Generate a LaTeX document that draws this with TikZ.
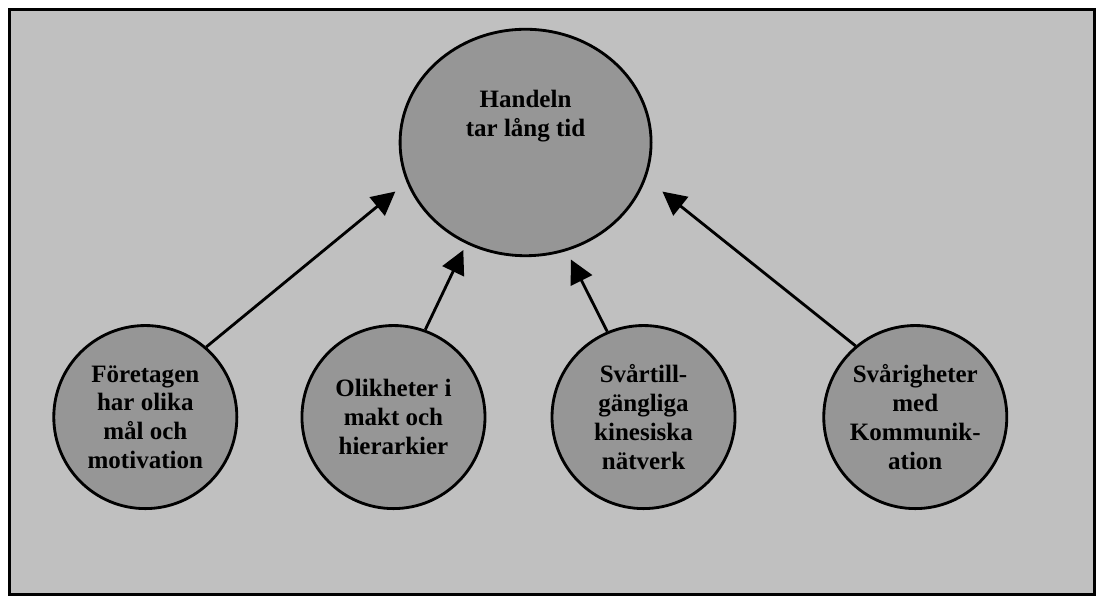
\documentclass[tikz,border=0pt]{standalone}
\usepackage{fontspec}
\setmainfont{Liberation Serif}
\usetikzlibrary{arrows.meta,shapes.geometric}
\definecolor{bgfill}{RGB}{192,192,192}
\definecolor{circfill}{RGB}{150,150,150}
\begin{document}
\begin{tikzpicture}[x=1pt,y=-1pt,
  bubble/.style={circle,draw=black,line width=3pt,fill=circfill,minimum size=194pt,inner sep=0pt,align=center,font=\bfseries\fontsize{26.5}{30.5}\selectfont},
  txt/.style={align=center,inner sep=0pt,font=\bfseries\fontsize{26.5}{31}\selectfont},
  arr/.style={line width=3pt,-{Triangle[length=25pt,width=25pt]}}]
\path[use as bounding box] (0,0) rectangle (1170,640);
\draw[line width=4pt,fill=bgfill] (10,10) rectangle (1160,630);
\node[ellipse,draw=black,line width=3pt,fill=circfill,minimum width=266pt,minimum height=240pt,inner sep=0pt] (big) at (557,151) {};
\node[txt] (bigt) at (557,123) {Handeln\\tar lång tid};
\node[bubble] (c1) at (154,442) {Företagen\\har olika\\mål och\\motivation};
\node[bubble] (c2) at (417,442) {Olikheter i\\makt och\\hierarkier};
\node[bubble] (c3) at (682,442) {Svårtill-\\gängliga\\kinesiska\\nätverk};
\node[bubble] (c4) at (970,442) {Svårigheter\\med\\Kommunik-\\ation};
\coordinate (t1) at (419,203);
\coordinate (t2) at (491,265);
\coordinate (t3) at (605,275);
\coordinate (t4) at (702,203);
\draw[arr] (c1.49) -- (t1);
\draw[arr] (c2.70) -- (t2);
\draw[arr] (c3.113) -- (t3);
\draw[arr] (c4.130) -- (t4);
\end{tikzpicture}
\end{document}
